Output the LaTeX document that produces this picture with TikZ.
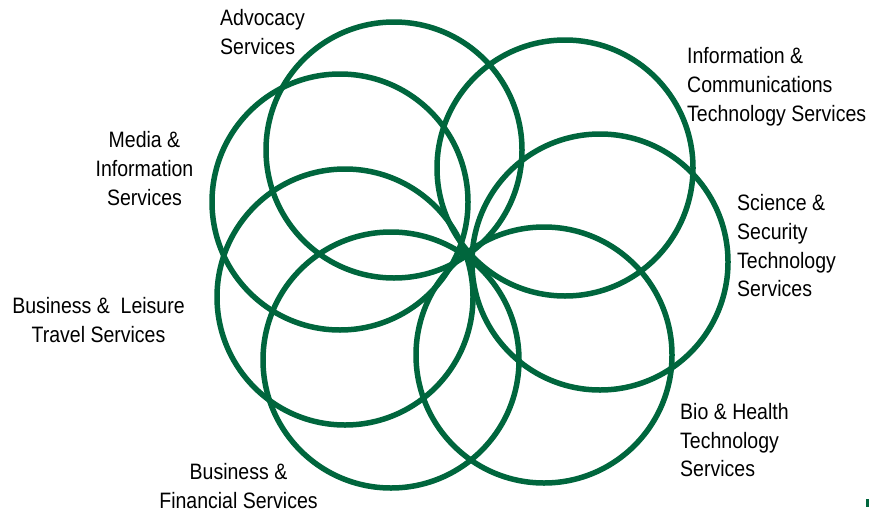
\documentclass[tikz,border=0pt]{standalone}
\usepackage{fontspec}
\setmainfont{Liberation Sans}[FakeStretch=0.875]
\definecolor{ringgreen}{RGB}{0,102,61}
\begin{document}
\begin{tikzpicture}[x=1pt,y=-1pt,
  ring/.style={draw=ringgreen,line width=5.5pt},
  lbl/.style={inner sep=0pt,font=\fontsize{22.3}{28.7}\selectfont,text=black}]
\useasboundingbox (0,0) rectangle (869,514);
% rings
\draw[ring] (394,150) circle[radius=128pt];
\draw[ring] (565,168) circle[radius=128pt];
\draw[ring] (340,202) circle[radius=128pt];
\draw[ring] (600,262) circle[radius=128pt];
\draw[ring] (345,297) circle[radius=128pt];
\draw[ring] (544,355) circle[radius=128pt];
\draw[ring] (391,360) circle[radius=128pt];
% labels (base anchor = baseline of the last line)
\node[lbl,align=left,anchor=base west] (advocacy) at (220,54) {Advocacy\\Services};
\node[lbl,align=left,anchor=base west] (ict) at (687,121) {Information \&\\Communications\\Technology Services};
\node[lbl,align=center,anchor=base] (media) at (144.5,205) {Media \&\\Information\\Services};
\node[lbl,align=center,anchor=base] (leisure) at (98.5,342) {Business \& \ Leisure\\Travel Services};
\node[lbl,align=center,anchor=base] (financial) at (238.5,508) {Business \&\\Financial Services};
\node[lbl,align=left,anchor=base west] (science) at (737,296.7) {Science \&\\Security\\Technology\\Services};
\node[lbl,align=left,anchor=base west] (bio) at (680,476.7) {Bio \& Health\\Technology\\Services};
% small cropped mark at the corner
\fill[ringgreen] (866,499) rectangle (869,507);
\end{tikzpicture}
\end{document}
